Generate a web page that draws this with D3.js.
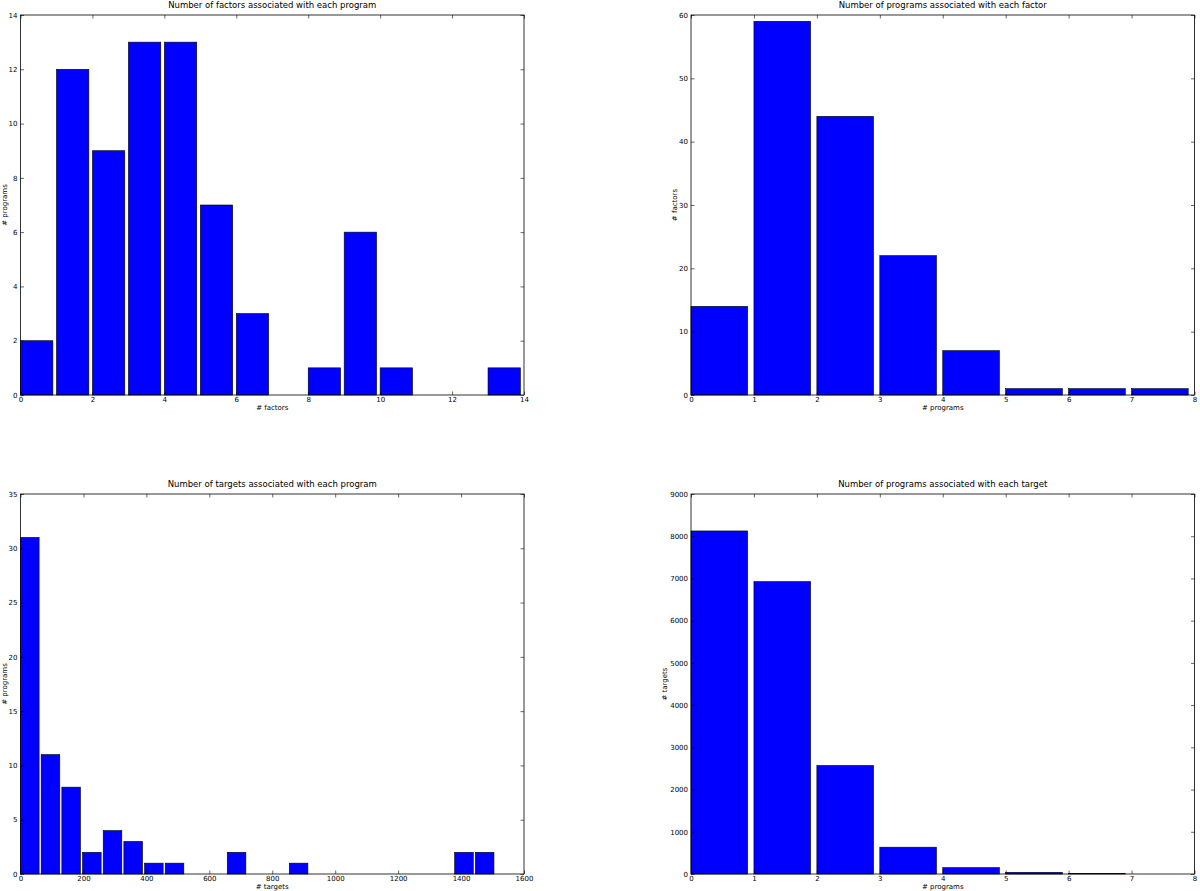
<!DOCTYPE html>
<html>
<head>
<meta charset="utf-8">
<script src="https://cdn.jsdelivr.net/npm/d3@7"></script>
<style>
  html, body { margin: 0; padding: 0; background: #fff; }
  svg { display: block; font-family: "DejaVu Sans", sans-serif; }
</style>
</head>
<body>
<svg id="chart" width="1200" height="891"></svg>
<script>
// ---- data ----
const factorsPerProgramBins = [0,1,2,3,4,5,6,7,8,9,10,11,12,13];
const factorsPerProgramCounts = [2,12,9,13,13,7,3,0,1,6,1,0,0,1];

const programsPerFactorBins = [0,1,2,3,4,5,6,7];
const programsPerFactorCounts = [14,59,44,22,7,1,1,1];

const targetsPerProgramBins = [0,65.7,131.4,197.1,262.8,328.5,394.2,459.9,525.6,591.3,657,722.7,788.4,854.1,919.8,985.5,1051.2,1116.9,1182.6,1248.3,1314,1379.7,1445.4];
const targetsPerProgramCounts = [31,11,8,2,4,3,1,1,0,0,2,0,0,1,0,0,0,0,0,0,0,2,2];

const programsPerTargetBins = [0,1,2,3,4,5,6];
const programsPerTargetCounts = [8125,6925,2570,635,150,40,8];

const panels = [
  { title: "Number of factors associated with each program", xlabel: "# factors", ylabel: "# programs",
    bins: factorsPerProgramBins, counts: factorsPerProgramCounts, binWidth: 1,
    xDomain: [0,14], xTicks: [0,2,4,6,8,10,12,14], yDomain: [0,14], yTicks: [0,2,4,6,8,10,12,14],
    left: 20.5, top: 15, yLabelX: -13.5 },
  { title: "Number of programs associated with each factor", xlabel: "# programs", ylabel: "# factors",
    bins: programsPerFactorBins, counts: programsPerFactorCounts, binWidth: 1,
    xDomain: [0,8], xTicks: [0,1,2,3,4,5,6,7,8], yDomain: [0,60], yTicks: [0,10,20,30,40,50,60],
    left: 691, top: 15, yLabelX: -14 },
  { title: "Number of targets associated with each program", xlabel: "# targets", ylabel: "# programs",
    bins: targetsPerProgramBins, counts: targetsPerProgramCounts, binWidth: 65.7,
    xDomain: [0,1600], xTicks: [0,200,400,600,800,1000,1200,1400,1600], yDomain: [0,35], yTicks: [0,5,10,15,20,25,30,35],
    left: 20.5, top: 494, yLabelX: -13.5 },
  { title: "Number of programs associated with each target", xlabel: "# programs", ylabel: "# targets",
    bins: programsPerTargetBins, counts: programsPerTargetCounts, binWidth: 1,
    xDomain: [0,8], xTicks: [0,1,2,3,4,5,6,7,8], yDomain: [0,9000], yTicks: [0,1000,2000,3000,4000,5000,6000,7000,8000,9000],
    left: 691, top: 494, yLabelX: -24 }
];

const W = 503.5, H = 380;
const svg = d3.select("#chart");

panels.forEach(p => {
  const g = svg.append("g").attr("transform", `translate(${p.left},${p.top})`);
  const x = d3.scaleLinear().domain(p.xDomain).range([0, W]);
  const y = d3.scaleLinear().domain(p.yDomain).range([H, 0]);

  // bars
  g.selectAll("rect.bar")
    .data(p.counts.map((c, i) => ({ x0: p.bins[i], c })).filter(d => d.c > 0))
    .enter().append("rect")
    .attr("class", "bar")
    .attr("x", d => x(d.x0))
    .attr("width", d => x(d.x0 + p.binWidth * 0.9) - x(d.x0))
    .attr("y", d => y(d.c))
    .attr("height", d => H - y(d.c))
    .attr("fill", "#0000ff")
    .attr("stroke", "#000")
    .attr("stroke-width", 0.6);

  // axes (ticks inward on all sides)
  const fmt = d3.format("d");
  const tickStyle = sel => {
    sel.select(".domain").remove();
    sel.selectAll(".tick line").attr("stroke", "#000").attr("stroke-width", 0.6);
    sel.selectAll(".tick text").attr("font-size", "7px").attr("fill", "#000").attr("font-family", "DejaVu Sans, sans-serif");
  };
  g.append("g").attr("transform", `translate(0,${H})`)
    .call(d3.axisBottom(x).tickValues(p.xTicks).tickFormat(fmt).tickSizeInner(-3.5).tickSizeOuter(0).tickPadding(2.5))
    .call(tickStyle);
  g.append("g")
    .call(d3.axisTop(x).tickValues(p.xTicks).tickSizeInner(-3.5).tickSizeOuter(0).tickFormat(""))
    .call(tickStyle);
  g.append("g")
    .call(d3.axisLeft(y).tickValues(p.yTicks).tickFormat(fmt).tickSizeInner(-3.5).tickSizeOuter(0).tickPadding(3))
    .call(tickStyle);
  g.append("g").attr("transform", `translate(${W},0)`)
    .call(d3.axisRight(y).tickValues(p.yTicks).tickSizeInner(-3.5).tickSizeOuter(0).tickFormat(""))
    .call(tickStyle);

  // frame
  g.append("rect").attr("x", 0).attr("y", 0).attr("width", W).attr("height", H)
    .attr("fill", "none").attr("stroke", "#000").attr("stroke-width", 0.8);

  // title
  g.append("text").attr("x", W / 2).attr("y", -7.5).attr("text-anchor", "middle")
    .attr("font-size", "8.5px").attr("fill", "#000").text(p.title);
  // x label
  g.append("text").attr("x", W / 2).attr("y", H + 14.5).attr("text-anchor", "middle")
    .attr("font-size", "7px").attr("fill", "#000").text(p.xlabel);
  // y label
  g.append("text").attr("transform", `translate(${p.yLabelX},${H / 2}) rotate(-90)`)
    .attr("text-anchor", "middle").attr("font-size", "7px").attr("fill", "#000").text(p.ylabel);
});
</script>
</body>
</html>
